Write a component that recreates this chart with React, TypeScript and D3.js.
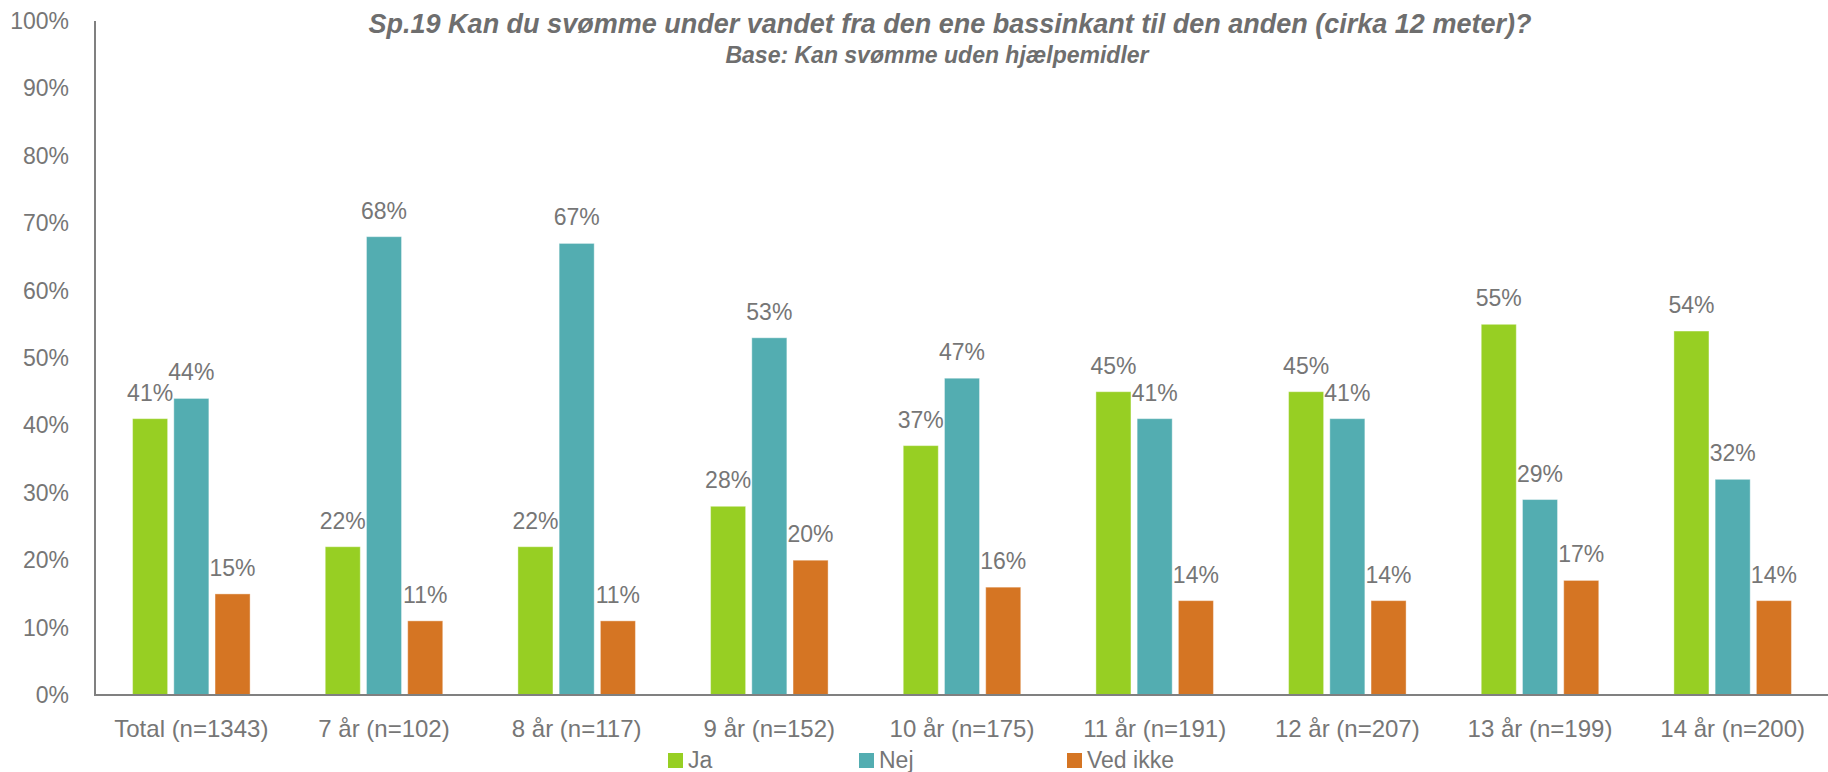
import React, { useEffect, useRef } from "react";
import * as d3 from "d3";

const categories = [
  "Total (n=1343)",
  "7 år (n=102)",
  "8 år (n=117)",
  "9 år (n=152)",
  "10 år (n=175)",
  "11 år (n=191)",
  "12 år (n=207)",
  "13 år (n=199)",
  "14 år (n=200)",
];
const seriesNames = ["Ja", "Nej", "Ved ikke"];
const ja = [41, 22, 22, 28, 37, 45, 45, 55, 54];
const nej = [44, 68, 67, 53, 47, 41, 41, 29, 32];
const vedIkke = [15, 11, 11, 20, 16, 14, 14, 17, 14];
const yTicks = [0, 10, 20, 30, 40, 50, 60, 70, 80, 90, 100];
const colors = ["#97cf23", "#53adb1", "#d57523"];

const title = "Sp.19 Kan du svømme under vandet fra den ene bassinkant til den anden (cirka 12 meter)?";
const subtitle = "Base: Kan svømme uden hjælpemidler";

const W = 1828;
const H = 772;
const FONT = "'Liberation Sans', Arial, sans-serif";
const TEXT = "#767676";

export default function App() {
  const ref = useRef<SVGSVGElement | null>(null);

  useEffect(() => {
    const svg = d3.select(ref.current);
    svg.selectAll("*").remove();

    const values = [ja, nej, vedIkke];
    const margin = { left: 95, right: -1, top: 21, bottom: 77 };

    const x0 = d3.scaleBand<string>()
      .domain(categories)
      .range([margin.left, W - margin.right])
      .paddingInner(0.39)
      .paddingOuter(0.195);
    const x1 = d3.scaleBand<string>()
      .domain(seriesNames)
      .range([0, x0.bandwidth()])
      .paddingInner(0.15);
    const y = d3.scaleLinear().domain([0, 100]).range([H - margin.bottom, margin.top]);

    // title
    svg.append("text")
      .attr("x", 950).attr("y", 33)
      .attr("text-anchor", "middle")
      .attr("font-family", FONT).attr("font-size", 27)
      .attr("font-weight", "bold").attr("font-style", "italic")
      .attr("fill", "#6e6e6e")
      .text(title);
    svg.append("text")
      .attr("x", 937).attr("y", 63)
      .attr("text-anchor", "middle")
      .attr("font-family", FONT).attr("font-size", 23)
      .attr("font-weight", "bold").attr("font-style", "italic")
      .attr("fill", "#6e6e6e")
      .text(subtitle);

    // y tick labels
    svg.append("g")
      .selectAll("text")
      .data(yTicks)
      .join("text")
        .attr("x", 69)
        .attr("y", d => y(d))
        .attr("dy", "0.35em")
        .attr("text-anchor", "end")
        .attr("font-family", FONT).attr("font-size", 23)
        .attr("fill", TEXT)
        .text(d => d + "%");

    // bars + labels
    const groups = svg.append("g")
      .selectAll("g")
      .data(categories)
      .join("g")
        .attr("transform", d => `translate(${x0(d)},0)`);

    groups.selectAll("rect")
      .data((_, i) => seriesNames.map((s, k) => ({ s, k, v: values[k][i] })))
      .join("rect")
        .attr("x", d => x1(d.s)!)
        .attr("y", d => y(d.v))
        .attr("width", x1.bandwidth())
        .attr("height", d => y(0) - y(d.v))
        .attr("fill", d => colors[d.k])
        .attr("stroke", "#fff")
        .attr("stroke-opacity", 0.4)
        .attr("stroke-width", 1);

    groups.selectAll("text")
      .data((_, i) => seriesNames.map((s, k) => ({ s, k, v: values[k][i] })))
      .join("text")
        .attr("x", d => x1(d.s)! + x1.bandwidth() / 2)
        .attr("y", d => y(d.v) - 18)
        .attr("text-anchor", "middle")
        .attr("font-family", FONT).attr("font-size", 23)
        .attr("fill", TEXT)
        .text(d => d.v + "%");

    // axes lines
    svg.append("line")
      .attr("x1", margin.left).attr("x2", margin.left)
      .attr("y1", y(100)).attr("y2", y(0))
      .attr("stroke", "#808080").attr("stroke-width", 2);
    svg.append("line")
      .attr("x1", margin.left - 1).attr("x2", W)
      .attr("y1", y(0)).attr("y2", y(0))
      .attr("stroke", "#808080").attr("stroke-width", 2);

    // x labels
    svg.append("g")
      .selectAll("text")
      .data(categories)
      .join("text")
        .attr("x", d => x0(d)! + x0.bandwidth() / 2)
        .attr("y", 737)
        .attr("text-anchor", "middle")
        .attr("font-family", FONT).attr("font-size", 24)
        .attr("fill", TEXT)
        .text(d => d);

    // legend
    const legendX = [668, 859, 1067];
    const legend = svg.append("g")
      .selectAll("g")
      .data(seriesNames)
      .join("g")
        .attr("transform", (_, i) => `translate(${legendX[i]},753)`);
    legend.append("rect")
      .attr("width", 15).attr("height", 15)
      .attr("fill", (_, i) => colors[i]);
    legend.append("text")
      .attr("x", 20).attr("y", 15)
      .attr("font-family", FONT).attr("font-size", 23)
      .attr("fill", TEXT)
      .text(d => d);
  }, []);

  return (
    <svg
      ref={ref}
      width={W}
      height={H}
      style={{ position: "absolute", left: 0, top: 0, display: "block", background: "#fff" }}
    />
  );
}
